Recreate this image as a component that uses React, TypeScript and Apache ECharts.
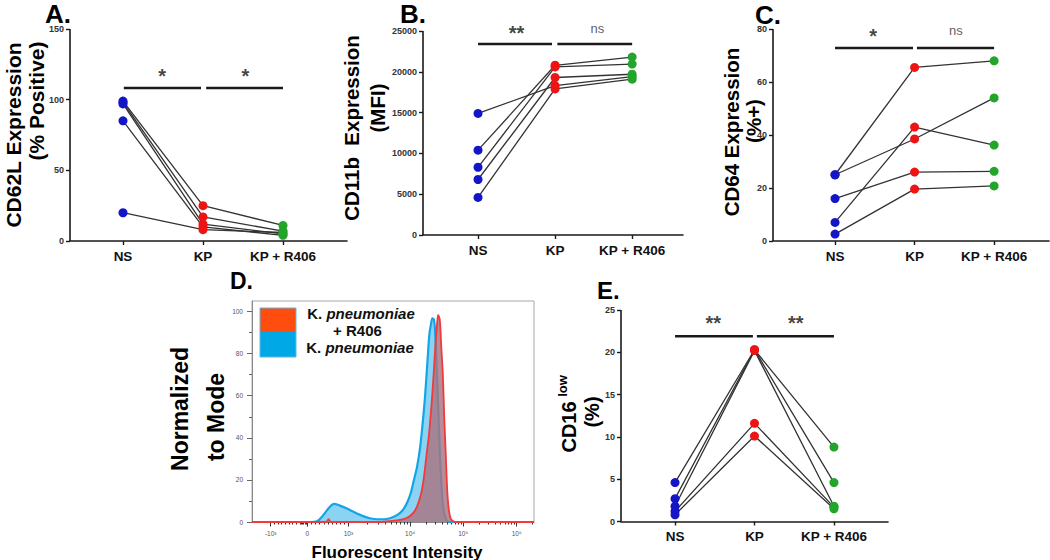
import { useEffect, useRef } from 'react';
import * as echarts from 'echarts';

const FONT = '"Liberation Sans", Arial, Helvetica, sans-serif';

// ---------- data ----------
const groups = ['NS', 'KP', 'KP + R406'];
const groupPos = [1, 2, 3];
const groupColors = ['#1515c8', '#ee1414', '#22a52a'];

// one row per donor: [NS, KP, KP + R406]
const cd62l = [
  [99, 25, 11],
  [98, 17, 7],
  [97, 12, 5],
  [85, 10, 4],
  [20, 8, 6],
];
const cd11b = [
  [14900, 18300, 19400],
  [10400, 20800, 21800],
  [8300, 20600, 20950],
  [6800, 19300, 19700],
  [4600, 17900, 19100],
];
const cd64 = [
  [25, 65.5, 68],
  [25, 38.5, 54],
  [16, 26, 26.3],
  [7, 43, 36.2],
  [2.6, 19.6, 20.8],
];
const cd16low = [
  [4.6, 20.3, 8.8],
  [2.7, 20.3, 4.6],
  [1.8, 20.2, 1.8],
  [1.2, 11.6, 1.7],
  [0.8, 10.1, 1.5],
];

// significance bars: [from, to, value] (x in group positions)
const sigBarsA = [[1.01, 1.975, 108.3], [2.04, 3, 108.3]];
const sigBarsB = [[1, 1.96, 23400], [2.03, 3, 23400]];
const sigBarsC = [[1, 1.98, 72.8], [2.03, 3, 72.8]];
const sigBarsE = [[1, 1.98, 21.9], [2.03, 3, 21.9]];
// significance labels: [x, value, text]
const sigTextA: [number, number, string][] = [[1.49, 120, '*'], [2.53, 120, '*']];
const sigTextB: [number, number, string][] = [[1.5, 25360, '**'], [2.55, 25360, 'ns']];
const sigTextC: [number, number, string][] = [[1.48, 79.4, '*'], [2.52, 79.4, 'ns']];
const sigTextE: [number, number, string][] = [[1.48, 24.0, '**'], [2.52, 24.0, '**']];

// histogram (channel, % of mode)
const histKP: [number, number][] = [
  [0, 0], [210, 0], [236, 0.3], [254, 2.5], [272, 5.5], [287, 7.8], [298, 8.6], [319, 7.8],
  [341, 6.7], [359, 5.5], [381, 4], [403, 2.8], [428, 1.8], [454, 1.3], [479, 1.3], [501, 1.8],
  [519, 2.7], [537, 4.2], [552, 6.5], [566, 10], [577, 14], [588, 20], [599, 26], [610, 35],
  [619, 46], [628, 59], [637, 76], [644, 89], [650, 94], [655, 96.7], [661, 96], [666, 88],
  [671, 72], [677, 52], [682, 33], [688, 18], [693, 8], [701, 2.5], [708, 0.6], [719, 0], [1024, 0],
];
const histKPR406: [number, number][] = [
  [0, 0], [269, 0], [278, 1.3], [287, 0], [465, 0], [508, 0.5], [537, 1], [559, 1.8], [577, 3.2],
  [592, 5.5], [604, 9], [615, 14], [624, 21], [633, 31], [643, 42], [652, 56], [659, 69],
  [666, 84], [672, 94], [676, 98.4], [682, 96], [687, 84], [693, 70], [698, 50], [704, 31],
  [709, 15], [715, 5.5], [722, 1.5], [733, 0.2], [744, 0], [1024, 0],
];
const histTickChannels = [68, 201, 350, 574, 767, 961];
const histTickLabels = ['-10³', '0', '10³', '10⁴', '10⁵', '10⁶'];
const histYTicks = [0, 20, 40, 60, 80, 100];
const histYMinor = [10, 30, 50, 70, 90];

function minorChannels(): number[] {
  const out: number[] = [];
  const [cn, c0, c3, c4, c5, c6] = histTickChannels;
  for (let k = 1; k < 10; k++) out.push(cn + (k / 10) * (c0 - cn));
  [178, 183, 193, 197].forEach((v) => out.push(v));
  for (let k = 1; k < 10; k++) out.push(c0 + (k / 10) * (c3 - c0));
  const dec = [c3, c4, c5, c6];
  for (let d = 0; d < 3; d++) {
    for (let k = 2; k < 10; k++) out.push(dec[d] + Math.log10(k) * (dec[d + 1] - dec[d]));
  }
  out.push(c6 + Math.log10(2) * (c6 - c5));
  return out;
}

// ---------- layout ----------
const dotPanels = [
  { donors: cd62l, grid: { left: 70, top: 29, width: 277, height: 212 }, xMin: 0.3375, xMax: 3.8, yMax: 150, yInt: 50, bars: sigBarsA, texts: sigTextA },
  { donors: cd11b, grid: { left: 423, top: 31, width: 260, height: 204 }, xMin: 0.286, xMax: 3.66, yMax: 25000, yInt: 5000, bars: sigBarsB, texts: sigTextB },
  { donors: cd64, grid: { left: 773, top: 29, width: 276, height: 212 }, xMin: 0.22, xMax: 3.69, yMax: 80, yInt: 20, bars: sigBarsC, texts: sigTextC },
  { donors: cd16low, grid: { left: 621, top: 310, width: 267, height: 211.5 }, xMin: 0.32, xMax: 3.68, yMax: 25, yInt: 5, bars: sigBarsE, texts: sigTextE },
];

function txt(x: number, y: number, text: string, size: number, opts: any = {}) {
  return {
    type: 'text',
    x,
    y,
    rotation: opts.rotation || 0,
    style: {
      text,
      fontSize: size,
      fontWeight: opts.weight || 'bold',
      fontFamily: FONT,
      fill: opts.fill || '#000',
      align: opts.align || 'center',
      verticalAlign: 'middle',
    },
  };
}

function buildOption() {
  const grid: any[] = [];
  const xAxis: any[] = [];
  const yAxis: any[] = [];
  const series: any[] = [];
  const graphic: any[] = [];
  const axisColor = '#1a1a1a';

  dotPanels.forEach((p, i) => {
    grid.push({ ...p.grid });
    xAxis.push({
      type: 'value', gridIndex: i, min: p.xMin, max: p.xMax, position: 'bottom',
      axisLine: { show: true, onZero: false, lineStyle: { color: axisColor, width: 1.6 } },
      axisTick: { show: true, customValues: groupPos, length: 4, lineStyle: { color: axisColor, width: 1.4 } },
      axisLabel: {
        customValues: groupPos, formatter: (v: number) => groups[groupPos.indexOf(Math.round(v))] ?? '',
        fontSize: 13.5, fontWeight: 'bold', color: '#111', fontFamily: FONT, margin: 8,
      },
      splitLine: { show: false },
    });
    yAxis.push({
      type: 'value', gridIndex: i, min: 0, max: p.yMax, interval: p.yInt, position: 'left',
      axisLine: { show: false, onZero: false },
      axisTick: { show: true, length: 4, lineStyle: { color: axisColor, width: 1.4 } },
      axisLabel: {
        fontSize: 9, fontWeight: 'bold', color: '#333', fontFamily: FONT, margin: 6,
        formatter: (v: number) => String(v),
      },
      splitLine: { show: false },
    });
    // y axis line drawn as decoration along the grid's left edge
    graphic.push({
      type: 'line', z: 10,
      shape: { x1: p.grid.left, y1: p.grid.top, x2: p.grid.left, y2: p.grid.top + p.grid.height },
      style: { stroke: axisColor, lineWidth: 1.6 },
    });
    p.donors.forEach((d) => {
      series.push({
        type: 'line', xAxisIndex: i, yAxisIndex: i, data: d.map((v, j) => [groupPos[j], v]),
        symbol: 'none', lineStyle: { color: '#333', width: 1.3 }, silent: true, z: 2,
      });
    });
    groups.forEach((g, j) => {
      series.push({
        type: 'scatter', xAxisIndex: i, yAxisIndex: i,
        data: p.donors.map((d) => [groupPos[j], d[j]]), symbolSize: 9,
        itemStyle: { color: groupColors[j], opacity: 1 }, z: 5, silent: true,
      });
    });
    p.bars.forEach((b) => {
      series.push({
        type: 'line', xAxisIndex: i, yAxisIndex: i, data: [[b[0], b[2]], [b[1], b[2]]],
        symbol: 'none', lineStyle: { color: '#1a1a1a', width: 2.5 }, silent: true, z: 3,
      });
    });
    series.push({
      type: 'scatter', xAxisIndex: i, yAxisIndex: i, clip: false, silent: true, z: 6,
      symbolSize: 1, itemStyle: { color: 'rgba(0,0,0,0)' },
      data: p.texts.map((t) => ({
        value: [t[0], t[1]],
        label: {
          show: true, position: 'inside', formatter: t[2], fontFamily: FONT,
          fontSize: t[2] === 'ns' ? 13 : 20, fontWeight: t[2] === 'ns' ? 'normal' : 'bold',
          color: t[2] === 'ns' ? '#333' : '#111', offset: t[2] === 'ns' ? [0, 0] : [0, 5],
        },
      })),
    });
  });

  // panel D: histogram (grid index 4)
  grid.push({ left: 252, top: 301, width: 282, height: 221, show: true, borderColor: '#a8a8a8', borderWidth: 1 });
  const dLabel = { fontSize: 6.5, color: '#555', fontFamily: FONT };
  xAxis.push({
    type: 'value', gridIndex: 4, min: 0, max: 1024, position: 'bottom',
    axisLine: { show: true, onZero: false, lineStyle: { color: '#8a8a8a', width: 1 } },
    axisTick: { show: true, customValues: histTickChannels, length: 4.5, lineStyle: { color: '#333', width: 1 } },
    axisLabel: {
      customValues: histTickChannels, ...dLabel, margin: 8,
      formatter: (v: number) => histTickLabels[histTickChannels.indexOf(v)] ?? '',
    },
    splitLine: { show: false },
  });
  xAxis.push({
    type: 'value', gridIndex: 4, min: 0, max: 1024, position: 'bottom', offset: 0,
    axisLine: { show: false, onZero: false },
    axisTick: { show: true, customValues: minorChannels(), length: 2.5, lineStyle: { color: '#333', width: 1 } },
    axisLabel: { show: false },
    splitLine: { show: false },
  });
  yAxis.push({
    type: 'value', gridIndex: 4, min: 0, max: 105, position: 'left',
    axisLine: { show: true, onZero: false, lineStyle: { color: '#8a8a8a', width: 1 } },
    axisTick: { show: true, customValues: histYTicks, length: 5, lineStyle: { color: '#666', width: 1 } },
    axisLabel: { customValues: histYTicks, ...dLabel, margin: 9 },
    splitLine: { show: false },
  });
  yAxis.push({
    type: 'value', gridIndex: 4, min: 0, max: 105, position: 'left', offset: 0,
    axisLine: { show: false, onZero: false },
    axisTick: { show: true, customValues: histYMinor, length: 3, lineStyle: { color: '#666', width: 1 } },
    axisLabel: { show: false },
    splitLine: { show: false },
  });
  series.push({
    type: 'line', xAxisIndex: 4, yAxisIndex: 4, data: histKP,
    showSymbol: false, symbol: 'none', smooth: 0.3, silent: true, z: 2,
    lineStyle: { color: '#12a6e8', width: 2.2 },
    areaStyle: { color: '#8bd3f3', opacity: 1 },
  });
  series.push({
    type: 'line', xAxisIndex: 4, yAxisIndex: 4, data: histKPR406,
    showSymbol: false, symbol: 'none', smooth: 0.3, silent: true, z: 3,
    lineStyle: { color: '#f23a3a', width: 1.8 },
    areaStyle: { color: 'rgba(168,116,128,0.82)', opacity: 1 },
  });

  const R = Math.PI / 2;
  const legendRich = {
    n: { fontSize: 15, fontWeight: 'bold', fontFamily: FONT, fill: '#111' },
    i: { fontSize: 15, fontWeight: 'bold', fontStyle: 'italic', fontFamily: FONT, fill: '#111' },
  };
  graphic.push(
    txt(45, 14, 'A.', 26, { align: 'left' }),
    txt(400, 14, 'B.', 26, { align: 'left' }),
    txt(755, 15, 'C.', 26, { align: 'left' }),
    txt(230, 281, 'D.', 23, { align: 'left' }),
    txt(597, 290, 'E.', 24, { align: 'left' }),
    txt(13, 135, 'CD62L Expression', 21, { rotation: R }),
    txt(36, 101, '(% Positive)', 21, { rotation: R }),
    txt(351, 128, 'CD11b  Expression', 20.5, { rotation: R }),
    txt(377, 108, '(MFI)', 20.5, { rotation: R }),
    txt(731, 132, 'CD64 Expression', 20.5, { rotation: R }),
    txt(753, 121, '(%+)', 20.5, { rotation: R }),
    txt(569, 427, 'CD16', 20, { rotation: R }),
    txt(562, 386, 'low', 13, { rotation: R }),
    txt(592, 412, '(%)', 20, { rotation: R }),
    txt(180, 409, 'Normalized', 23, { rotation: R }),
    txt(216, 417, 'to Mode', 23, { rotation: R }),
    txt(397, 552, 'Fluorescent Intensity', 17),
    { type: 'rect', shape: { x: 260, y: 308, width: 36, height: 24 }, style: { fill: '#ff4c0f' } },
    { type: 'rect', shape: { x: 260, y: 332, width: 36, height: 25 }, style: { fill: '#00a8e6' } },
    { type: 'rect', shape: { x: 260, y: 308, width: 36, height: 49 }, style: { fill: 'none', stroke: '#5ab8e8', lineWidth: 1 } },
    { type: 'text', x: 361, y: 313, style: { text: '{n|K. }{i|pneumoniae}', rich: legendRich, align: 'center', verticalAlign: 'middle' } },
    txt(357.5, 330, '+ R406', 15, { fill: '#111' }),
    { type: 'text', x: 360, y: 347.5, style: { text: '{n|K. }{i|pneumoniae}', rich: legendRich, align: 'center', verticalAlign: 'middle' } },
  );

  return { animation: false, backgroundColor: '#fff', grid, xAxis, yAxis, series, graphic };
}

export default function App() {
  const ref = useRef<HTMLDivElement>(null);
  useEffect(() => {
    if (!ref.current) return;
    const chart = echarts.init(ref.current, undefined, { renderer: 'svg' });
    chart.setOption(buildOption() as any);
    return () => chart.dispose();
  }, []);
  return (
    <div
      ref={ref}
      style={{ position: 'fixed', left: 0, top: 0, width: 1050, height: 560, background: '#fff' }}
    />
  );
}
